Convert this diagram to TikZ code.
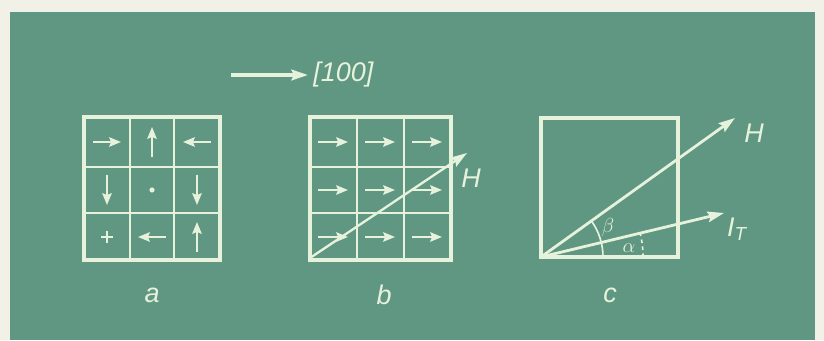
\documentclass[tikz,border=0pt]{standalone}
\usepackage{fontspec}
\setsansfont{Liberation Sans}
\usetikzlibrary{arrows.meta}
\definecolor{board}{HTML}{5F9782}
\definecolor{chalk}{HTML}{E6F2DC}
\definecolor{paper}{HTML}{F2F1E8}

\begin{document}
\begin{tikzpicture}[x=0.03cm,y=0.03cm,line width=2.4pt,
  vec/.style={draw=chalk,line width=2.4pt,-{Stealth[length=14pt,width=9pt,inset=2pt]}},
  spin/.style={draw=chalk,line width=2pt,-{Stealth[length=10pt,width=8pt,inset=1.5pt]}},
  lab/.style={text=chalk,font=\sffamily\itshape\fontsize{23}{25}\selectfont}]
\fill[paper] (0,0) rectangle (824,340);
\fill[board] (10,0) rectangle (815,328);
% [100] direction
\coordinate (d0) at (231,265); \node[lab,anchor=west] (dir) at (308,265) {[100]};
\draw[vec,line width=3pt] (d0)--(dir.west);
% a: domains
\draw[chalk,line width=3.2pt] (84,80) rectangle (220,223);
\foreach \x in {130,174}{\draw[chalk] (\x,80)--(\x,223);}
\foreach \y in {127,173}{\draw[chalk] (84,\y)--(220,\y);}
\foreach \x/\y/\dx/\dy in {107/198/1/0,152/198/0/1,197/198/-1/0,107/150/0/-1,197/150/0/-1,152/103/-1/0,197/103/0/1}{\draw[spin] (\x-14*\dx,\y-15*\dy)--(\x+14*\dx,\y+15*\dy);}
\fill[chalk] (152,150) circle (2.6);
\draw[chalk,line width=2pt] (101,103)--(113,103) (107,97)--(107,109);
\node[lab] (a) at (152,45) {a};
% b: saturated
\draw[chalk,line width=3.2pt] (310,80) rectangle (451,223);
\foreach \x in {357,404}{\draw[chalk] (\x,80)--(\x,223);}
\foreach \y in {127,173}{\draw[chalk] (310,\y)--(451,\y);}
\foreach \x in {333,380,427}{\foreach \y in {103,150,198}{\draw[spin] (\x-15,\y)--(\x+15,\y);}}
\coordinate (ob) at (310,82); \coordinate (hb) at (467,187);
\draw[vec,line width=2pt] (ob)--(hb);
\node[lab] (Hb) at (471,162) {H};
\node[lab] (b) at (384,45) {b};
% c: angles
\draw[chalk,line width=3.2pt] (541,83) rectangle (678,222);
\coordinate (O) at (541,83); \coordinate (hc) at (735,222); \coordinate (ic) at (724,127);
\draw[vec] (O)--(hc); \draw[vec] (O)--(ic);
\draw[chalk,line width=1.4pt] (O) ++(0:62) arc (0:35.6:62);
\draw[chalk,line width=1.4pt,dashed] (O) ++(0:102) arc (0:13.5:102);
\node[lab,font=\sffamily\itshape\fontsize{18}{20}\selectfont] (beta) at (608,113) {$\beta$};
\node[lab,font=\sffamily\itshape\fontsize{18}{20}\selectfont] (alpha) at (629,92) {$\alpha$};
\node[lab] (Hc) at (754,207) {H};
\node[lab] (It) at (737,111) {I\textsubscript{T}};
\node[lab] (c) at (610,45) {c};
\end{tikzpicture}
\end{document}
